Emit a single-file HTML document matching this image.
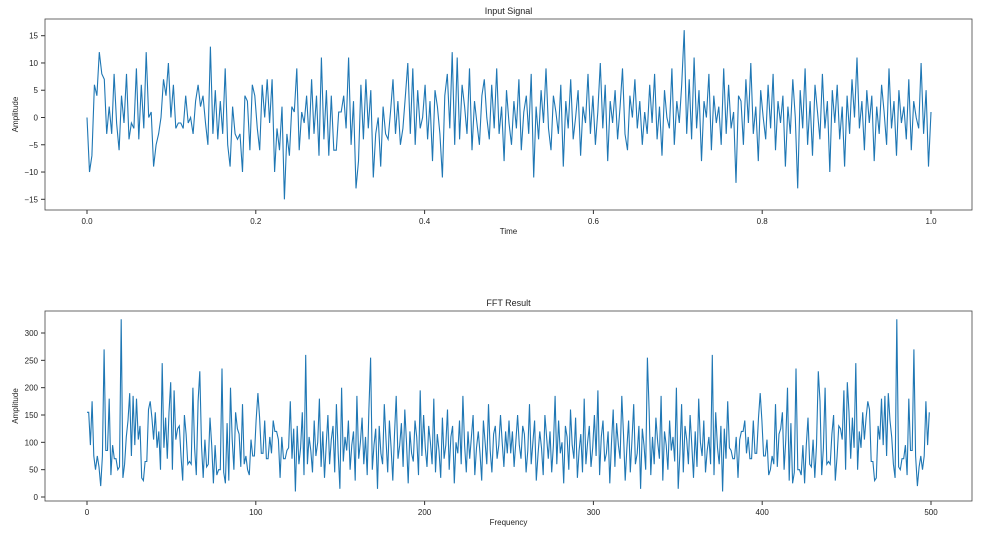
<!DOCTYPE html>
<html><head><meta charset="utf-8"><style>
body{margin:0;background:#fff;font-family:"Liberation Sans",sans-serif}
svg text{font-family:"Liberation Sans",sans-serif;fill:#222}
</style></head><body>
<svg id="c" width="1000" height="540"></svg>
<script>
const signalValues=[0,-10,-7,6,4,12,8,7,-3,2,-3,8,-1,-6,4,-1,8,-4,-1,-2,9,-4,6,-2,12,0,1,-9,-5,-3,0,7,4,10,0,6,-2,-1,-1,-2,4,-1,0,-3,3,6,2,4,-1,-5,13,-3,5,-4,3,-3,9,-5,-9,2,-3,-4,-3,-10,4,3,-6,6,4,-2,-6,6,0,7,-1,7,-10,-2,-6,2,-15,-3,-7,2,1,9,-6,1,-1,4,-4,7,-3,4,-7,11,-4,5,-7,4,
-6,-6,1,1,4,-2,11,-5,3,-13,-8,6,-4,7,-2,5,-11,-3,0,-9,2,-3,-4,1,7,-3,3,-5,-2,4,10,-3,9,-5,5,-2,0,6,-4,3,-8,5,2,-3,-11,4,8,-2,12,-5,11,-4,6,2,-3,9,-6,3,-1,-5,4,7,0,-4,6,-2,9,-3,2,-8,5,-1,-5,3,-2,7,-6,1,4,-3,8,-11,2,-4,5,-1,9,-2,-6,4,1,-3,6,-9,3,-2,7,-4,0,5,-7,2,
-1,8,-3,4,-5,1,10,-2,6,-8,3,-1,5,-4,2,9,-3,-6,4,0,7,-2,3,-5,1,-3,6,-1,8,-4,2,-7,5,0,-2,9,-5,3,-1,6,16,-3,7,-4,11,-2,5,-8,3,0,8,-6,4,-1,2,-5,9,-3,6,-2,1,-12,4,3,-5,7,-1,10,-3,2,-8,5,0,-4,6,-2,8,-6,3,-1,4,-9,2,-3,7,0,-13,5,-2,9,-5,3,-7,6,1,-4,
8,-2,3,-10,5,-1,6,-4,2,-9,4,-3,7,0,11,-2,3,-6,5,-1,4,-8,2,-3,6,1,-5,9,-2,3,-7,5,-1,2,-4,7,-6,3,0,-2,10,-3,5,-9,1];
const fftHalf=[155,155,95,175,75,50,75,55,20,75,270,85,85,180,40,95,70,70,50,55,325,35,60,110,140,190,75,185,95,180,105,130,35,30,65,65,160,175,145,105,155,90,120,50,245,90,145,70,155,210,50,195,105,125,130,75,30,150,115,60,65,60,200,90,40,175,230,95,35,105,55,60,145,95,25,95,40,50,50,235,45,25,135,30,200,105,50,155,125,115,55,170,60,75,50,40,105,75,75,140,190,145,80,80,140,70,70,110,80,140,120,120,105,35,110,70,70,85,90,175,70,125,10,
130,60,90,155,40,260,60,110,85,45,140,75,100,180,55,120,35,95,150,60,105,130,45,170,80,15,200,65,110,85,140,50,95,120,30,185,70,100,145,60,110,40,160,255,50,95,125,15,130,80,60,170,105,45,140,90,30,115,185,70,95,135,55,160,100,25,120,80,65,140,110,40,195,75,150,90,55,130,100,60,180,45,115,85,35,145,70,95,160,50,110,130,25,100,80,140,60,185,95,45,120,70,110,150,40,90,120,80,30,140,100,60,170,85,45,115,130,70,95,150,100,55,120,80,140];
const fftValues=fftHalf.concat(fftHalf.slice(1,fftHalf.length-1).reverse());
const topXTicks=["0.0","0.2","0.4","0.6","0.8","1.0"];
const topYTicks=[-15,-10,-5,0,5,10,15];
const botXTicks=[0,100,200,300,400,500];
const botYTicks=[0,50,100,150,200,250,300];
const NS="http://www.w3.org/2000/svg",svg=document.getElementById('c');
function mk(t,a,p){const e=document.createElementNS(NS,t);for(const k in a)e.setAttribute(k,a[k]);(p||svg).appendChild(e);return e;}
function panel(cfg){
 const g=mk('g',{});
 
 
 const xs=v=>cfg.x0+(v-cfg.d0)/(cfg.d1-cfg.d0)*(cfg.x1-cfg.x0);
 const ys=v=>cfg.y0+(v-cfg.r0)/(cfg.r1-cfg.r0)*(cfg.y1-cfg.y0);
 cfg.yt.forEach(v=>{const y=ys(v);mk('line',{x1:cfg.L-4,x2:cfg.L,y1:y,y2:y,stroke:'#333'},g);
  const t=mk('text',{x:cfg.L-7,y:y+3,'font-size':8,'text-anchor':'end'},g);t.textContent=String(v).replace('-','−');
  });
 cfg.xt.forEach(v=>{const x=xs(parseFloat(v));mk('line',{x1:x,x2:x,y1:cfg.B,y2:cfg.B+4,stroke:'#333'},g);
  const t=mk('text',{x:x,y:cfg.B+14,'font-size':8,'text-anchor':'middle'},g);t.textContent=v;
  });
 const vals=cfg.vals,n=vals.length;
 const pts=vals.map((v,i)=>xs(cfg.d0+i*(cfg.span/(n-1))).toFixed(1)+','+ys(v).toFixed(1)).join(' ');
 const pl=mk('polyline',{points:pts,fill:'none',stroke:'#1f77b4','stroke-width':1.1},g);
 
 mk('rect',{x:cfg.L,y:cfg.T,width:cfg.R-cfg.L,height:cfg.B-cfg.T,fill:'none',stroke:'#444','stroke-width':0.8},g);
 const ti=mk('text',{x:(cfg.L+cfg.R)/2,y:cfg.T-5,'font-size':9,'text-anchor':'middle'},g);ti.textContent=cfg.title;
 
 const xl=mk('text',{x:(cfg.L+cfg.R)/2,y:cfg.B+24,'font-size':8,'text-anchor':'middle'},g);xl.textContent=cfg.xlab;
 
 const cy=(cfg.T+cfg.B)/2,yl=mk('text',{x:18,y:cy,'font-size':8,'text-anchor':'middle',transform:`rotate(-90 18 ${cy})`},g);yl.textContent='Amplitude';
 
}
panel({name:'input-signal-chart',title:'Input Signal',xlab:'Time',vals:signalValues,L:45,R:972,T:19,B:210,
 x0:87,x1:931,d0:0,d1:1,span:1,y0:117.5,y1:35.7,r0:0,r1:15,xt:topXTicks,yt:topYTicks});
panel({name:'fft-result-chart',title:'FFT Result',xlab:'Frequency',vals:fftValues,L:45,R:972,T:311,B:501,
 x0:87,x1:931,d0:0,d1:500,span:499,y0:497,y1:333,r0:0,r1:300,xt:botXTicks.map(String),yt:botYTicks});
</script>
</body></html>
